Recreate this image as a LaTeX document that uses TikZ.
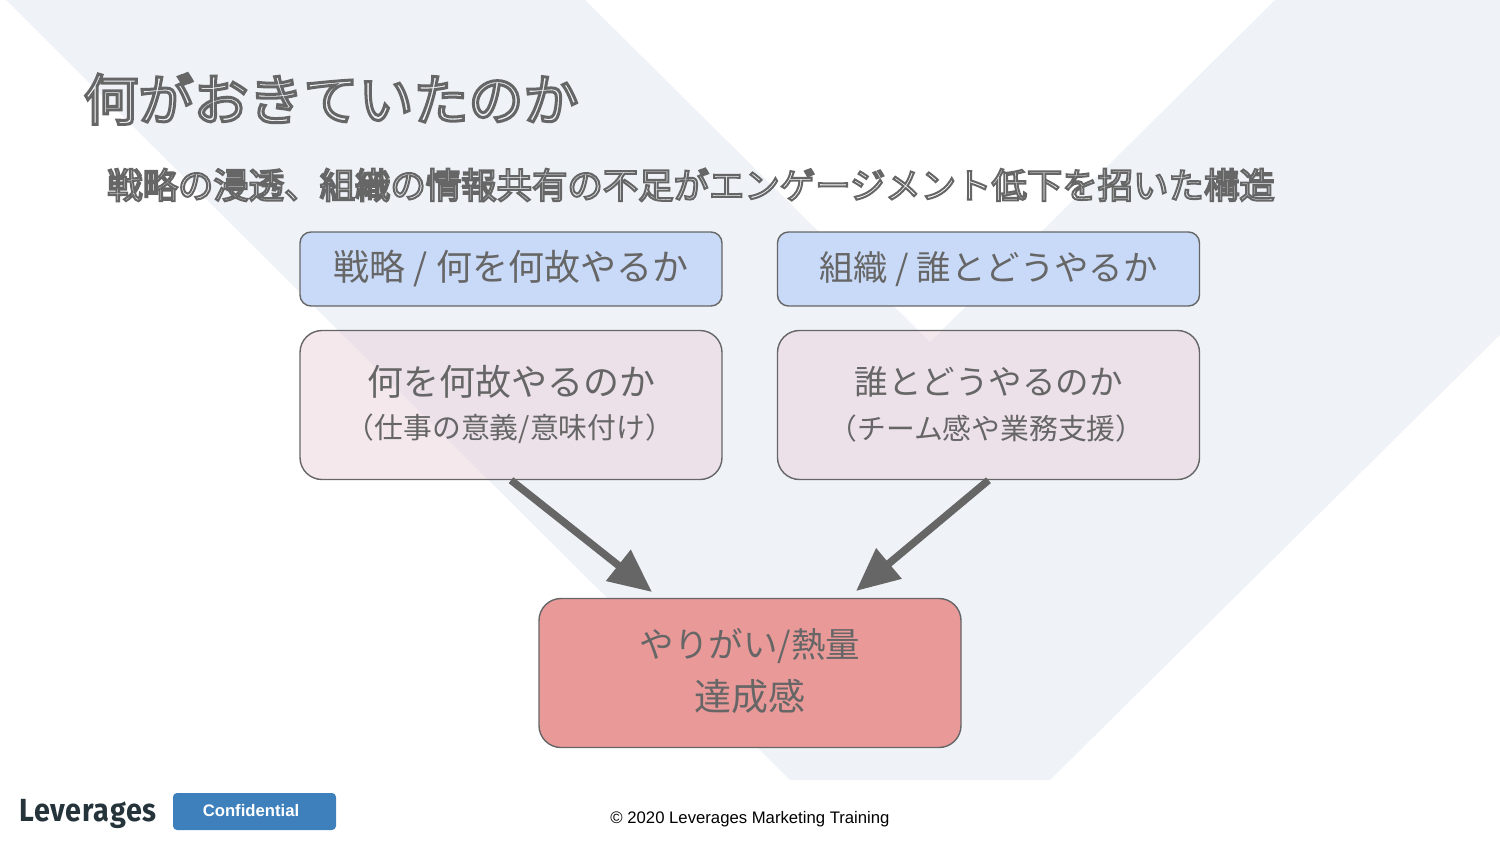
\documentclass[tikz,border=0pt]{standalone}
\usepackage{fontspec}
\setmainfont{Noto Sans CJK JP}
\newfontfamily\arialf{Liberation Sans}
\newfontfamily\logof{Fira Sans}[FakeStretch=0.9,LetterSpace=2.5]
\usetikzlibrary{arrows.meta}
\definecolor{band}{HTML}{EFF3F8}
\definecolor{ink}{HTML}{666666}
\definecolor{headfill}{HTML}{C9DAF8}
\definecolor{midfill}{HTML}{EAD1DC}
\definecolor{goalfill}{HTML}{EA9999}
\definecolor{conffill}{HTML}{3D80BC}
\definecolor{logoink}{HTML}{25333A}
\newcommand{\outl}[2]{\special{pdf:code 1 Tr #1 w 0.4 0.4 0.4 RG}#2\special{pdf:code 0 Tr}}
\newcommand{\px}[1]{\fontsize{#1pt}{#1pt}\selectfont}
\tikzset{
  boxbase/.style={draw=ink,line width=1.4pt,text=ink,inner sep=0pt,align=center,minimum width=422pt},
  headbox/.style={boxbase,fill=headfill,minimum height=74pt,rounded corners=11pt},
  midbox/.style={boxbase,fill=midfill,fill opacity=0.5,draw opacity=1,minimum height=149pt,rounded corners=22pt},
  goalbox/.style={boxbase,fill=goalfill,minimum height=149pt,rounded corners=22pt},
  bigarrow/.style={draw=ink,line width=7.5pt,-{Triangle[length=43pt,width=38pt]}},
  txt/.style={inner sep=0pt,text=ink,anchor=center}
}
\begin{document}
\begin{tikzpicture}[x=1pt,y=-1pt]
\useasboundingbox (0,0) rectangle (1500,844);
\fill[band] (6,0) -- (585,0) -- (930,342) -- (1275,0) -- (1500,0) -- (1500,335) -- (1050,780) -- (790,780) -- cycle;
\node[txt] (title) at (331,99) {\px{55}\outl{3}{何がおきていたのか}};
\node[txt] (sub) at (691,185) {\px{35.4}\outl{2}{戦略の浸透、組織の情報共有の不足がエンゲージメント低下を招いた構造}};
\node[headbox] (h1) at (511,269) {\px{36}\raisebox{4pt}{戦略 / 何を何故やるか}};
\node[headbox] (h2) at (988.5,269) {\px{34.4}\raisebox{4pt}{組織 / 誰とどうやるか}};
\node[midbox] (m1) at (511,405) {};
\node[midbox] (m2) at (988.5,405) {};
\node[txt] (m1a) at (511,382) {\px{36}何を何故やるのか};
\node[txt] (m1b) at (510,429) {\px{28.8}（仕事の意義/意味付け）};
\node[txt] (m2a) at (988.5,382) {\px{33.5}誰とどうやるのか};
\node[txt] (m2b) at (986.5,428.5) {\px{28.8}（チーム感や業務支援）};
\node[goalbox] (g) at (750,673) {};
\node[txt] (ga) at (750,646) {\px{34.5}やりがい/熱量};
\node[txt] (gb) at (750,696) {\px{37}達成感};
\coordinate (t1) at (652,592);
\coordinate (t2) at (856,591);
\draw[bigarrow] (m1.south) -- (t1);
\draw[bigarrow] (m2.south) -- (t2);
\node[inner sep=0pt,text=logoink] (logo) at (88,814) {\logof\px{32}\bfseries Leverages};
\node[fill=conffill,rounded corners=4pt,minimum width=163pt,minimum height=37pt,inner sep=0pt] (conf) at (254.5,811.5) {};
\node[inner sep=0pt,text=white] (conft) at (251,811) {\arialf\px{16.7}\bfseries Confidential};
\node[inner sep=0pt,text=black] (copy) at (750,819) {\arialf\px{16.7}© 2020 Leverages Marketing Training};
\end{tikzpicture}
\end{document}
